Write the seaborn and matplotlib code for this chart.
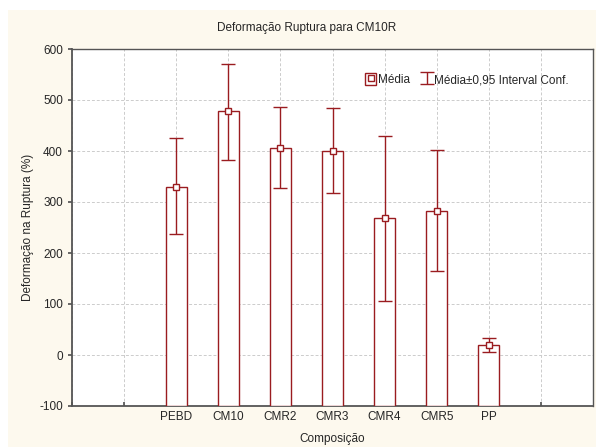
import matplotlib
matplotlib.use("Agg")
import matplotlib.pyplot as plt
import seaborn as sns
import pandas as pd
import numpy as np
from matplotlib.lines import Line2D
from matplotlib.patches import Rectangle

categories = ["PEBD", "CM10", "CMR2", "CMR3", "CMR4", "CMR5", "PP"]
means = [330, 478, 406, 400, 268, 283, 20]
ci_low = [237, 383, 327, 318, 106, 165, 6]
ci_high = [425, 570, 486, 484, 430, 401, 33]
baseline = -100

slots = ["_s0", "_s1"] + categories + ["_s9"]

sns.set_theme(style="white")
plt.rcParams["font.family"] = ["Liberation Sans", "DejaVu Sans"]
plt.rcParams["axes.unicode_minus"] = False

RED = "#9A1C20"
CREAM = "#FDF9EE"

fig = plt.figure(figsize=(5.96, 4.47), dpi=100)
fig.patch.set_facecolor("white")
fig.patches.append(Rectangle((8 / 596, 0), 1, 1 - 10 / 447, transform=fig.transFigure,
                             facecolor=CREAM, edgecolor="none", zorder=-10))
ax = fig.add_axes([72 / 596, 1 - 406 / 447, (593 - 72) / 596, (406 - 49) / 447])
ax.set_facecolor("white")

df = pd.DataFrame({"Composição": categories, "Deformação": means})
sns.barplot(data=df, x="Composição", y="Deformação", order=slots, width=0.4,
            errorbar=None, facecolor="white", edgecolor=RED, linewidth=1.0, ax=ax, zorder=3)
# Statistica-style bars rise from the bottom of the value axis
for p in ax.patches:
    top = p.get_y() + p.get_height()
    p.set_y(baseline)
    p.set_height(top - baseline)

pos = [slots.index(c) for c in categories]
m = np.array(means)
yerr = [m - np.array(ci_low), np.array(ci_high) - m]
eb = ax.errorbar(pos, means, yerr=yerr, fmt="none", ecolor=RED, elinewidth=1.0,
                 capsize=5, capthick=1.0, zorder=4)
ax.plot(pos, means, linestyle="none", marker="s", markersize=4, markerfacecolor="white",
        markeredgecolor=RED, markeredgewidth=1.0, zorder=5)

ax.set_xlim(0, 10)
ax.set_ylim(-100, 600)
ax.set_xticks(range(len(slots)))
ax.set_xticklabels([s if not s.startswith("_") else "" for s in slots], fontsize=8.5)
ax.set_yticks(range(-100, 601, 100))
ax.tick_params(axis="y", labelsize=8.5, length=3, direction="out", left=True, color="#555555")
ax.tick_params(axis="x", length=3, direction="in", bottom=True, color="#555555")
ax.grid(True, linestyle=(0, (3, 2)), color="#CCCCCC", linewidth=0.7, zorder=0)
ax.set_axisbelow(True)
for side in ["left", "bottom", "top", "right"]:
    ax.spines[side].set_visible(True)
    ax.spines[side].set_color("#555555")
ax.spines["left"].set_linewidth(1.3)
ax.spines["bottom"].set_linewidth(1.3)
ax.spines["top"].set_linewidth(1.0)
ax.spines["right"].set_linewidth(1.0)

ax.set_xlabel("Composição", fontsize=8.5, labelpad=7)
ax.set_ylabel("Deformação na Ruptura (%)", fontsize=8.5, labelpad=4)
fig.text(307 / 596, 1 - 28 / 447, "Deformação Ruptura para CM10R", ha="center",
         va="center", fontsize=8.5)

h_box = Rectangle((0, 0), 1, 1, facecolor="white", edgecolor=RED, linewidth=1.0)
h_mark = Line2D([], [], linestyle="none", marker="s", markersize=4, markerfacecolor="white",
                markeredgecolor=RED, markeredgewidth=1.0)
ax.legend([(h_box, h_mark), eb], ["Média", "Média±0,95 Interval Conf."],
          loc="upper right", bbox_to_anchor=(0.962, 0.945), frameon=False, fontsize=8.5,
          handlelength=0.9, handleheight=1.1, handletextpad=0.15, ncol=2,
          columnspacing=1.0, borderaxespad=0)

fig.savefig("out.png", dpi=100, facecolor=fig.get_facecolor())
